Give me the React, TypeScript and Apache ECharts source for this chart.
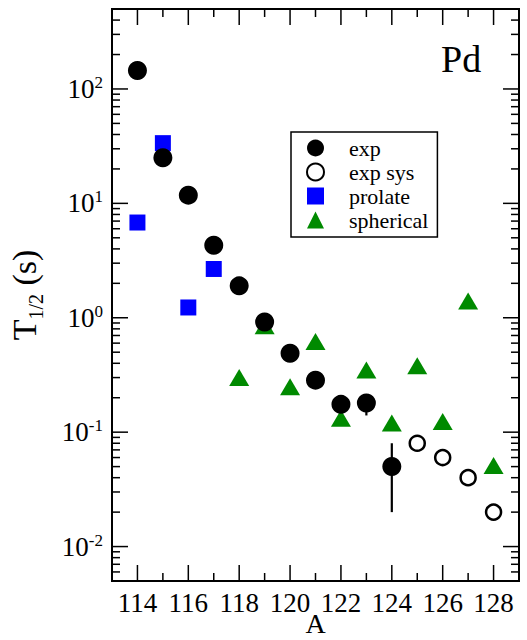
import React, { useEffect, useRef } from "react";
import * as echarts from "echarts";

// Half-lives of Pd isotopes (seconds)
const expA = [114, 115, 116, 117, 118, 119, 120, 121, 122, 123, 124];
const expT = [145, 25, 11.8, 4.3, 1.9, 0.92, 0.49, 0.285, 0.175, 0.18, 0.05];

const errA = [123, 124];
const errLo = [0.14, 0.02];
const errHi = [0.21, 0.08];

const sysA = [125, 126, 127, 128];
const sysT = [0.08, 0.06, 0.04, 0.02];

const prolateA = [114, 115, 116, 117];
const prolateT = [6.8, 33.6, 1.23, 2.67];

const sphA = [118, 119, 120, 121, 122, 123, 124, 125, 126, 127, 128];
const sphT = [0.3, 0.85, 0.25, 0.62, 0.132, 0.35, 0.12, 0.38, 0.124, 1.4, 0.051];

const X_MIN = 113;
const X_MAX = 129;
const Y_MIN = 0.005;
const Y_MAX = 500;

const FONT = "Liberation Serif";

// tick positions for the framed axes (inward ticks on all four sides)
const xTicks: number[] = [];
for (let a = X_MIN + 1; a < X_MAX; a++) xTicks.push(a);
const yTicks: number[] = [];
for (let e = -3; e <= 2; e++) {
  for (let k = 1; k <= 9; k++) {
    const v = k * Math.pow(10, e);
    if (v > Y_MIN * 1.0001 && v < Y_MAX * 0.9999) yTicks.push(Number(v.toPrecision(3)));
  }
}

export default function App() {
  const ref = useRef<HTMLDivElement>(null);

  useEffect(() => {
    const chart = echarts.init(ref.current!, null, { renderer: "svg" });

    const tickStyle = { stroke: "#000", lineWidth: 1.5 };

    const option: any = {
      animation: false,
      backgroundColor: "#fff",
      textStyle: { fontFamily: FONT },
      title: {
        text: "Pd",
        left: 441,
        top: 40,
        padding: 0,
        textStyle: { fontFamily: FONT, fontSize: 38, fontWeight: "normal", color: "#000" },
      },
      grid: {
        left: 112,
        top: 9,
        right: 8,
        bottom: 59,
        outerBoundsMode: "none",
        containLabel: false,
        show: true,
        borderColor: "#000",
        borderWidth: 2,
        backgroundColor: "#fff",
      },
      legend: {
        orient: "vertical",
        left: 291,
        top: 132,
        padding: [5, 9, 6, 15],
        itemGap: 2,
        itemWidth: 17,
        itemHeight: 17,
        backgroundColor: "#fff",
        borderColor: "#000",
        borderWidth: 1.5,
        borderRadius: 0,
        textStyle: {
          fontFamily: FONT,
          fontSize: 22,
          color: "#000",
          padding: [0, 0, 0, 20],
        },
        data: [
          { name: "exp", icon: "circle" },
          { name: "exp sys", icon: "circle" },
          { name: "prolate", icon: "rect" },
          { name: "spherical", icon: "triangle" },
        ],
      },
      xAxis: {
        type: "value",
        min: X_MIN,
        max: X_MAX,
        interval: 1,
        name: "A",
        nameLocation: "middle",
        nameGap: 28,
        nameMoveOverlap: false,
        nameTextStyle: { fontFamily: FONT, fontSize: 28, color: "#000", lineHeight: 28 },
        axisLine: { show: false },
        axisTick: { show: false },
        splitLine: { show: false },
        axisLabel: {
          fontFamily: FONT,
          fontSize: 27,
          color: "#000",
          margin: 8,
          formatter: (v: number) => (Math.round(v) % 2 === 0 ? String(Math.round(v)) : ""),
        },
      },
      yAxis: {
        type: "log",
        logBase: 10,
        min: Y_MIN,
        max: Y_MAX,
        name: "{t|T}{s|1/2}{t| (s)}",
        nameLocation: "middle",
        nameRotate: 90,
        nameGap: 71,
        nameMoveOverlap: false,
        nameTextStyle: {
          fontFamily: FONT,
          color: "#000",
          rich: {
            t: { fontFamily: FONT, fontSize: 34, color: "#000", lineHeight: 34 },
            s: { fontFamily: FONT, fontSize: 20, color: "#000", lineHeight: 20, padding: [24, 0, 0, 0] },
          },
        },
        axisLine: { show: false },
        axisTick: { show: false },
        splitLine: { show: false },
        axisLabel: {
          margin: 9,
          showMinLabel: false,
          showMaxLabel: false,
          formatter: (v: number) => {
            const l = Math.log10(v);
            const e = Math.round(l);
            if (Math.abs(l - e) > 1e-6) return "";
            return `{b|10}{s|${e}}`;
          },
          rich: {
            b: { fontFamily: FONT, fontSize: 27, color: "#000", lineHeight: 30 },
            s: { fontFamily: FONT, fontSize: 17, color: "#000", verticalAlign: "top", lineHeight: 17 },
          },
        },
      },
      series: [
        {
          name: "xticks",
          type: "custom",
          silent: true,
          clip: false,
          z: 10,
          data: xTicks.map((a) => [a, 1]),
          encode: { x: 0, y: 1 },
          renderItem: (params: any, api: any) => {
            const v = api.value(0);
            const cs = params.coordSys;
            const px = api.coord([v, 1])[0];
            const len = v % 2 === 0 ? 16 : 8;
            const bottom = cs.y + cs.height;
            return {
              type: "group",
              children: [
                { type: "line", shape: { x1: px, y1: bottom, x2: px, y2: bottom - len }, style: tickStyle },
                { type: "line", shape: { x1: px, y1: cs.y, x2: px, y2: cs.y + len }, style: tickStyle },
              ],
            };
          },
        },
        {
          name: "yticks",
          type: "custom",
          silent: true,
          clip: false,
          z: 10,
          data: yTicks.map((v) => [X_MIN + 1, v]),
          encode: { x: 0, y: 1 },
          renderItem: (params: any, api: any) => {
            const v = api.value(1);
            const cs = params.coordSys;
            const py = api.coord([X_MIN + 1, v])[1];
            const l = Math.log10(v);
            const len = Math.abs(l - Math.round(l)) < 1e-6 ? 16 : 8;
            const right = cs.x + cs.width;
            return {
              type: "group",
              children: [
                { type: "line", shape: { x1: cs.x, y1: py, x2: cs.x + len, y2: py }, style: tickStyle },
                { type: "line", shape: { x1: right, y1: py, x2: right - len, y2: py }, style: tickStyle },
              ],
            };
          },
        },
        {
          name: "spherical",
          type: "scatter",
          symbol: "triangle",
          symbolSize: [20, 17],
          itemStyle: { color: "#008a00", opacity: 1 },
          data: sphA.map((a, i) => [a, sphT[i]]),
          z: 2,
        },
        {
          name: "prolate",
          type: "scatter",
          symbol: "rect",
          symbolSize: 16,
          itemStyle: { color: "#0000ff", opacity: 1 },
          data: prolateA.map((a, i) => [a, prolateT[i]]),
          z: 3,
        },
        {
          name: "exp-err",
          type: "custom",
          silent: true,
          z: 4,
          data: errA.map((a, i) => [a, errLo[i], errHi[i]]),
          encode: { x: 0, y: [1, 2] },
          renderItem: (params: any, api: any) => {
            const a = api.value(0);
            const p1 = api.coord([a, api.value(1)]);
            const p2 = api.coord([a, api.value(2)]);
            return {
              type: "line",
              shape: { x1: p1[0], y1: p1[1], x2: p2[0], y2: p2[1] },
              style: { stroke: "#000", lineWidth: 2.2 },
            };
          },
        },
        {
          name: "exp",
          type: "scatter",
          symbol: "circle",
          symbolSize: 19,
          itemStyle: { color: "#000", opacity: 1 },
          data: expA.map((a, i) => [a, expT[i]]),
          z: 5,
        },
        {
          name: "exp sys",
          type: "scatter",
          symbol: "circle",
          symbolSize: 15,
          itemStyle: { color: "#fff", borderColor: "#000", borderWidth: 2.5, opacity: 1 },
          data: sysA.map((a, i) => [a, sysT[i]]),
          z: 5,
        },
      ],
    };

    chart.setOption(option);
    return () => chart.dispose();
  }, []);

  return (
    <div
      ref={ref}
      style={{ position: "absolute", left: 0, top: 0, width: 527, height: 640 }}
    />
  );
}
